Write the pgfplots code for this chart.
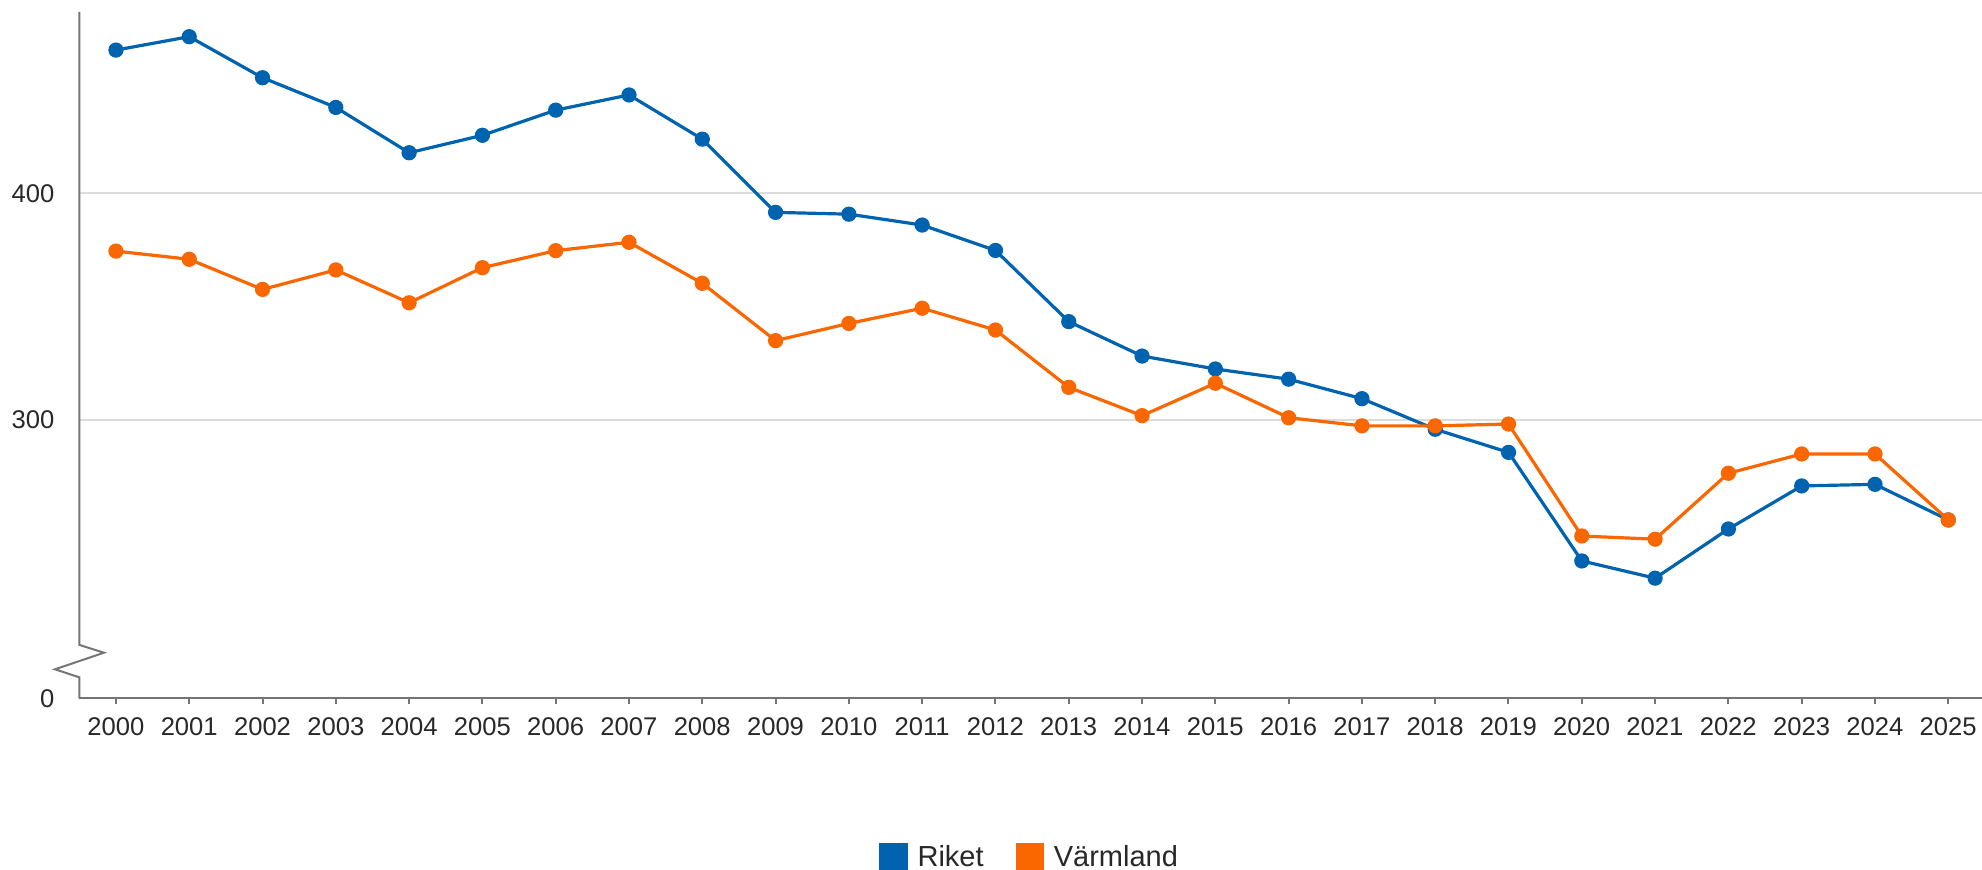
\documentclass[border=0pt]{standalone}
\usepackage{fontspec}
\setmainfont{Liberation Sans}
\usepackage{pgfplots}
\pgfplotsset{compat=1.18}
\definecolor{rikblue}{RGB}{0,99,175}
\definecolor{vorange}{RGB}{250,102,0}
\definecolor{axisgray}{RGB}{117,117,117}
\definecolor{gridgray}{RGB}{220,220,220}
\definecolor{txt}{RGB}{40,40,40}
\begin{document}
\begin{tikzpicture}
\begin{axis}[
  at={(39.65pt,85.35pt)}, anchor=south west,
  scale only axis, width=951.35pt, height=343.15pt,
  xmin=1999.5, xmax=2025.46, ymin=177.2, ymax=480,
  clip=false,
  axis lines*=left,
  x axis line style={-, draw=axisgray, line width=1pt},
  y axis line style={draw=none},
  xtick={2000,...,2025},
  /pgf/number format/1000 sep={},
  /pgf/number format/assume math mode=true,
  tick align=outside, major tick length=3pt,
  xtick style={draw=axisgray, line width=1pt},
  ytick={177.2,300,400}, yticklabels={0,300,400},
  ytick style={draw=none},
  ymajorgrids, major grid style={gridgray, line width=1pt},
  ticklabel style={font=\fontsize{12.8}{15}\selectfont, text=txt},
  yticklabel style={xshift=-6pt},
  xticklabel style={yshift=-3pt},
  legend style={at={(0.5,-0.232)}, anchor=center, draw=none, legend columns=2,
    font=\fontsize{14.5}{17}\selectfont, text=txt,
    /tikz/every odd column/.append style={column sep=3pt},
    /tikz/every even column/.append style={column sep=14pt}},
  legend cell align=left,
]
\addplot[rikblue, line width=1.6pt, mark=*, mark size=3pt, mark options={fill=rikblue, draw=rikblue},
  legend image code/.code={\fill[rikblue] (0pt,-6.25pt) rectangle (12.5pt,6.25pt);}] coordinates {
(2000,463.2) (2001,469.1) (2002,451.0) (2003,437.9) (2004,417.9) (2005,425.6)
(2006,436.7) (2007,443.4) (2008,423.9) (2009,391.6) (2010,390.8) (2011,386.0)
(2012,374.8) (2013,343.4) (2014,328.2) (2015,322.5) (2016,318.0) (2017,309.4)
(2018,295.9) (2019,285.7) (2020,237.8) (2021,230.2) (2022,251.9) (2023,270.9)
(2024,271.6) (2025,255.9)};
\addlegendentry{Riket}
\addplot[vorange, line width=1.6pt, mark=*, mark size=3pt, mark options={fill=vorange, draw=vorange},
  legend image code/.code={\fill[vorange] (0pt,-6.25pt) rectangle (12.5pt,6.25pt);}] coordinates {
(2000,374.5) (2001,370.9) (2002,357.6) (2003,366.2) (2004,351.7) (2005,367.2)
(2006,374.7) (2007,378.4) (2008,360.3) (2009,335.0) (2010,342.6) (2011,349.3)
(2012,339.7) (2013,314.4) (2014,301.9) (2015,316.2) (2016,301.0) (2017,297.4)
(2018,297.4) (2019,298.2) (2020,248.8) (2021,247.4) (2022,276.5) (2023,285.0)
(2024,285.0) (2025,255.9)};
\addlegendentry{Värmland}
\draw[axisgray, line width=1pt, line join=miter]
  (rel axis cs:0,1) -- ([yshift=26.7pt]rel axis cs:0,0)
  -- ([xshift=12.35pt,yshift=22.8pt]rel axis cs:0,0)
  -- ([xshift=-12.15pt,yshift=14.5pt]rel axis cs:0,0)
  -- ([yshift=10.5pt]rel axis cs:0,0) -- (rel axis cs:0,0);
\end{axis}
\pgfresetboundingbox
\useasboundingbox (0,0) rectangle (991pt,434.5pt);
\end{tikzpicture}
\end{document}
